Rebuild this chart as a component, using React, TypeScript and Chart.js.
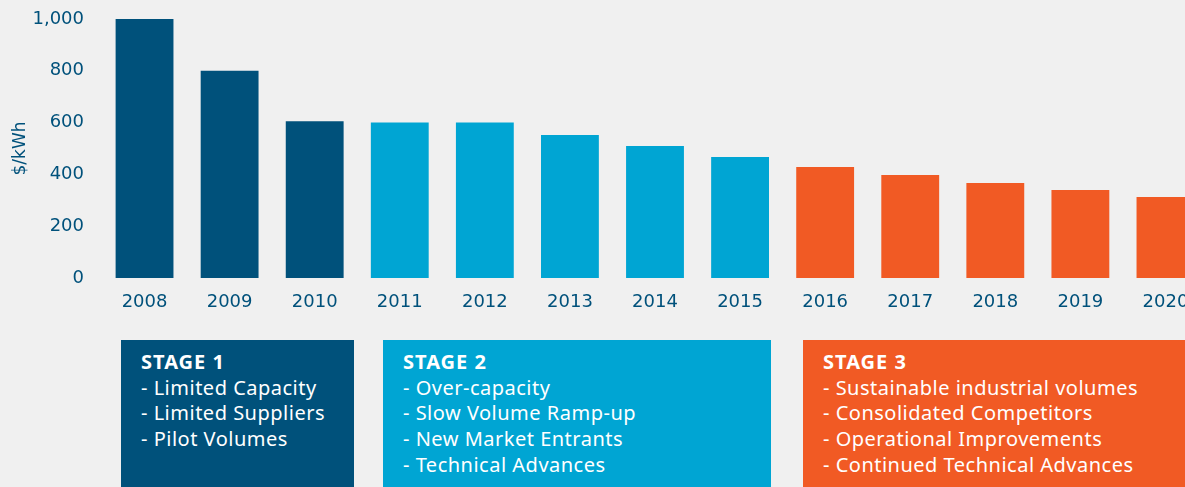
import React, { useEffect, useRef } from "react";
import { Chart, registerables } from "chart.js";

Chart.register(...registerables);

const years = ["2008", "2009", "2010", "2011", "2012", "2013", "2014", "2015", "2016", "2017", "2018", "2019", "2020"];
const costs = [1000, 800, 605, 600, 600, 552, 510, 467, 429, 398, 367, 340, 313];
const stageOfYear = [1, 1, 1, 2, 2, 2, 2, 2, 3, 3, 3, 3, 3];
const yTicks = [0, 200, 400, 600, 800, 1000];

const stageColors: Record<number, string> = { 1: "#00517b", 2: "#00a5d3", 3: "#f15a24" };

const stageTitles = ["STAGE 1", "STAGE 2", "STAGE 3"];
const stage1Items = ["Limited Capacity", "Limited Suppliers", "Pilot Volumes"];
const stage2Items = ["Over-capacity", "Slow Volume Ramp-up", "New Market Entrants", "Technical Advances"];
const stage3Items = ["Sustainable industrial volumes", "Consolidated Competitors", "Operational Improvements", "Continued Technical Advances"];

const TEXT = "#00517b";
const BG = "#f0f0f0";
const AXIS_FONT = "'DejaVu Sans', sans-serif";

function StageBox(props: { left: number; width: number; color: string; title: string; items: string[] }) {
  return (
    <div
      style={{
        position: "absolute",
        left: props.left,
        top: 340,
        width: props.width,
        height: 160,
        background: props.color,
        color: "#ffffff",
        fontFamily: "'Noto Sans', sans-serif",
        fontSize: 20,
        letterSpacing: "0.5px",
        lineHeight: "25.7px",
        padding: "9px 0 0 20px",
        boxSizing: "border-box",
      }}
    >
      <div style={{ fontWeight: 700, letterSpacing: "1px" }}>{props.title}</div>
      {props.items.map((t) => (
        <div key={t}>{"- " + t}</div>
      ))}
    </div>
  );
}

export default function App() {
  const ref = useRef<HTMLCanvasElement | null>(null);

  useEffect(() => {
    if (!ref.current) return;
    const chart = new Chart(ref.current, {
      type: "bar",
      data: {
        labels: years,
        datasets: [
          {
            data: costs,
            backgroundColor: stageOfYear.map((s) => stageColors[s]),
            barPercentage: 0.68,
            categoryPercentage: 1,
            borderWidth: 0,
          },
        ],
      },
      options: {
        animation: false,
        responsive: false,
        maintainAspectRatio: false,
        layout: { padding: { top: 19, left: 0, right: 0, bottom: 0 } },
        plugins: { legend: { display: false }, tooltip: { enabled: false } },
        scales: {
          x: {
            grid: { display: false, drawTicks: false },
            border: { display: false },
            ticks: { color: TEXT, font: { family: AXIS_FONT, size: 18 }, padding: 14, maxRotation: 0 },
            afterFit: (s: any) => {
              s.height = 52;
              s.paddingLeft = 0;
              s.paddingRight = 0;
            },
          },
          y: {
            min: 0,
            max: 1000,
            grid: { display: false, drawTicks: false },
            border: { display: false },
            afterBuildTicks: (s: any) => {
              s.ticks = yTicks.map((v) => ({ value: v }));
            },
            ticks: {
              color: TEXT,
              font: { family: AXIS_FONT, size: 18 },
              padding: 18,
              callback: (v: any) => Number(v).toLocaleString("en-US"),
            },
            title: {
              display: true,
              text: "$/kWh",
              color: TEXT,
              font: { family: AXIS_FONT, size: 17 },
              padding: { top: 10, bottom: 0 },
            },
            afterFit: (s: any) => {
              s.width = 102;
              s.paddingTop = 0;
              s.paddingBottom = 0;
            },
          },
        },
      },
    });
    return () => chart.destroy();
  }, []);

  return (
    <div style={{ position: "fixed", left: 0, top: 0, width: 1185, height: 487, overflow: "hidden", background: BG }}>
      <canvas ref={ref} width={1208} height={330} style={{ position: "absolute", left: 0, top: 0, width: 1208, height: 330 }} />
      <StageBox left={121} width={233} color={stageColors[1]} title={stageTitles[0]} items={stage1Items} />
      <StageBox left={383} width={388} color={stageColors[2]} title={stageTitles[1]} items={stage2Items} />
      <StageBox left={803} width={420} color={stageColors[3]} title={stageTitles[2]} items={stage3Items} />
    </div>
  );
}
